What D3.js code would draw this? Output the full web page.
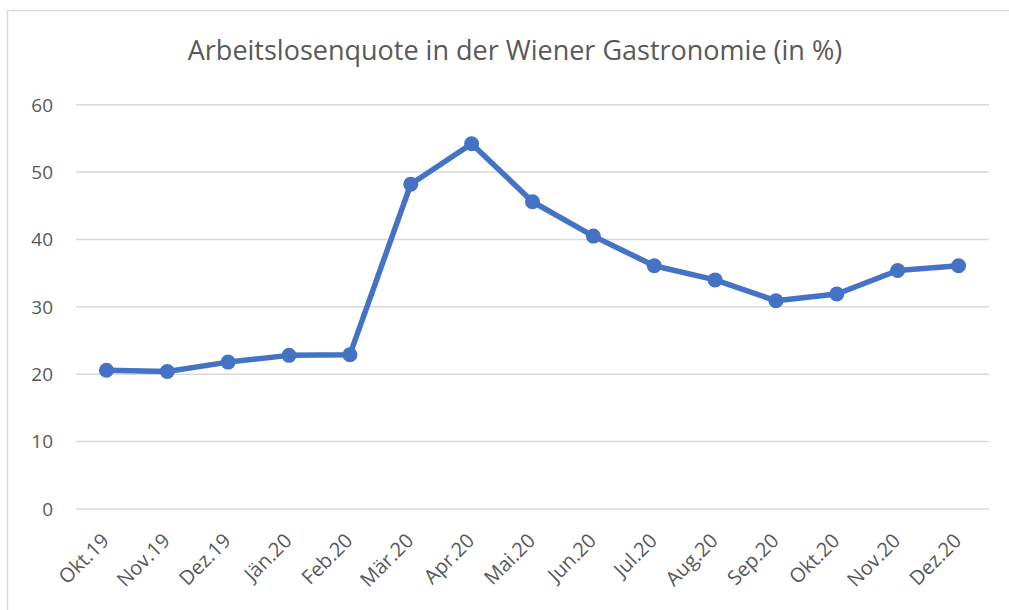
<!DOCTYPE html>
<html>
<head>
<meta charset="utf-8">
<script src="https://cdn.jsdelivr.net/npm/d3@7"></script>
<style>
	body { margin: 0; background: #fff; }
	svg text { font-family: "Open Sans", "Noto Sans", sans-serif; fill: #595959; }
</style>
</head>
<body>
<svg id="chart" width="1009" height="610"></svg>
<script>
var months = ['Okt.19', 'Nov.19', 'Dez.19', 'Jän.20', 'Feb.20', 'Mär.20', 'Apr.20', 'Mai.20',
	'Jun.20', 'Jul.20', 'Aug.20', 'Sep.20', 'Okt.20', 'Nov.20', 'Dez.20'];
var quote = [20.6, 20.4, 21.8, 22.8, 22.9, 48.2, 54.2, 45.6, 40.5, 36.1, 34.0, 30.9, 31.9, 35.4, 36.1];
var yTicks = [0, 10, 20, 30, 40, 50, 60];
var title = 'Arbeitslosenquote in der Wiener Gastronomie (in %)';

var svg = d3.select('#chart');

// chart frame
svg.append('rect')
	.attr('x', 7.5).attr('y', 10.5)
	.attr('width', 1010).attr('height', 620)
	.attr('fill', '#fff')
	.attr('stroke', '#d9d9d9')
	.attr('stroke-width', 1.5);

var plotLeft = 76, plotRight = 989, plotTop = 104.7, plotBottom = 509;

var x = d3.scaleBand().domain(months).range([plotLeft, plotRight]);
var y = d3.scaleLinear().domain([0, 60]).range([plotBottom, plotTop]);

svg.append('text')
	.attr('x', 515).attr('y', 60)
	.attr('text-anchor', 'middle')
	.style('font-size', '27px')
	.text(title);

// gridlines + y labels
var yAxis = svg.append('g');
yAxis.selectAll('line').data(yTicks).enter().append('line')
	.attr('x1', plotLeft).attr('x2', plotRight)
	.attr('y1', function(d){ return y(d); })
	.attr('y2', function(d){ return y(d); })
	.attr('stroke', '#d9d9d9')
	.attr('stroke-width', 1.5);
yAxis.selectAll('text').data(yTicks).enter().append('text')
	.attr('x', 53)
	.attr('y', function(d){ return y(d); })
	.attr('dy', '0.36em')
	.attr('text-anchor', 'end')
	.style('font-size', '19px')
	.text(function(d){ return d; });

// x labels
svg.append('g').selectAll('text').data(months).enter().append('text')
	.attr('transform', function(d){
		return 'translate(' + (x(d) + x.bandwidth() / 2 + 4) + ',' + 542 + ') rotate(-45)';
	})
	.attr('text-anchor', 'end')
	.style('font-size', '20px')
	.text(function(d){ return d; });

// line
var line = d3.line()
	.x(function(d, i){ return x(months[i]) + x.bandwidth() / 2; })
	.y(function(d){ return y(d); });

svg.append('path')
	.datum(quote)
	.attr('d', line)
	.attr('fill', 'none')
	.attr('stroke', '#4472c4')
	.attr('stroke-width', 5.5)
	.attr('stroke-linejoin', 'round');

svg.append('g').selectAll('circle').data(quote).enter().append('circle')
	.attr('cx', function(d, i){ return x(months[i]) + x.bandwidth() / 2; })
	.attr('cy', function(d){ return y(d); })
	.attr('r', 7.5)
	.attr('fill', '#4472c4');
</script>
</body>
</html>
